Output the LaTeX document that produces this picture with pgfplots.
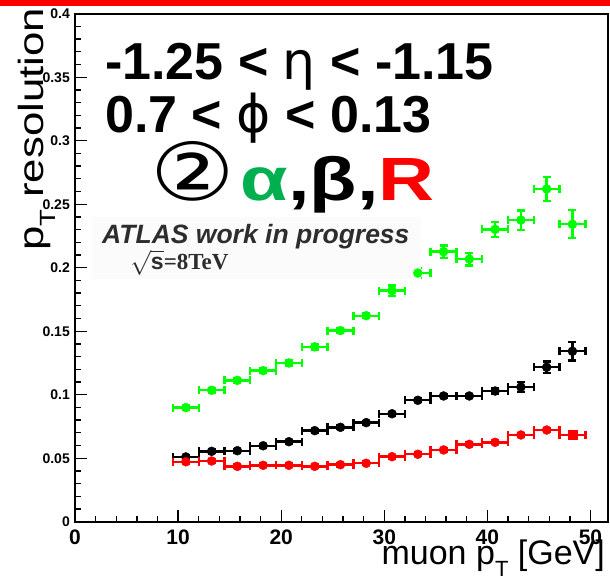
\documentclass[border=0pt]{standalone}
\usepackage{fontspec}
\setmainfont{Liberation Sans}
\newfontfamily\dejavu{DejaVu Sans}
\newfontfamily\lserif{Liberation Serif}
\newfontfamily\wide[FakeStretch=1.27]{Liberation Sans}
\newfontfamily\widedv[FakeStretch=1.18]{DejaVu Sans}
\newfontfamily\tall[FakeStretch=1.25]{Liberation Sans}
\usepackage{pgfplots}
\pgfplotsset{compat=1.18}
\definecolor{rootgreen}{RGB}{0,255,0}
\definecolor{offgreen}{RGB}{0,176,80}
\definecolor{atlasgray}{RGB}{45,45,45}

% x = bin centre, ex = half bin width, ey = stat. error
\pgfplotstableread{
x y ex ey
10.75 0.0898 1.25 0.002
13.25 0.1035 1.25 0.002
15.75 0.1113 1.25 0.002
18.25 0.1189 1.25 0.002
20.75 0.1250 1.25 0.002
23.25 0.1377 1.25 0.002
25.75 0.1505 1.25 0.002
28.25 0.1622 1.25 0.002
30.75 0.1819 1.25 0.004
33.25 0.1958 1.25 0.004
35.75 0.2126 1.25 0.005
38.25 0.2068 1.25 0.005
40.75 0.2302 1.25 0.006
43.25 0.2375 1.25 0.0076
45.75 0.2620 1.25 0.0096
48.25 0.2342 1.25 0.011
}\greendata

\pgfplotstableread{
x y ex ey
10.75 0.0510 1.25 0.0015
13.25 0.0554 1.25 0.0015
15.75 0.0559 1.25 0.0015
18.25 0.0598 1.25 0.0015
20.75 0.0630 1.25 0.0015
23.25 0.0717 1.25 0.0015
25.75 0.0743 1.25 0.0015
28.25 0.0780 1.25 0.0015
30.75 0.0850 1.25 0.0015
33.25 0.0956 1.25 0.0015
35.75 0.0990 1.25 0.0015
38.25 0.0990 1.25 0.0015
40.75 0.1029 1.25 0.002
43.25 0.1060 1.25 0.004
45.75 0.1216 1.25 0.0045
48.25 0.1342 1.25 0.0072
}\blackdata

\pgfplotstableread{
x y ex ey
10.75 0.0472 1.25 0.0015
13.25 0.0478 1.25 0.0015
15.75 0.0436 1.25 0.0015
18.25 0.0444 1.25 0.0015
20.75 0.0444 1.25 0.0015
23.25 0.0436 1.25 0.0015
25.75 0.0449 1.25 0.0015
28.25 0.0460 1.25 0.0015
30.75 0.0512 1.25 0.0015
33.25 0.0531 1.25 0.0015
35.75 0.0565 1.25 0.0015
38.25 0.0609 1.25 0.0015
40.75 0.0625 1.25 0.0015
43.25 0.0683 1.25 0.0015
45.75 0.0722 1.25 0.0015
}\reddata

\pgfplotstableread{
x y ex ey
48.25 0.0683 1.25 0.0015
}\redlast

\begin{document}
\begin{tikzpicture}
\begin{axis}[
  scale only axis,
  width=533pt, height=508pt,
  xmin=0, xmax=51.7, ymin=0, ymax=0.4,
  xtick={0,10,20,30,40,50},
  ytick={0,0.05,0.1,0.15,0.2,0.25,0.3,0.35,0.4},
  minor x tick num=4, minor y tick num=4,
  xtick pos=left, ytick pos=left,
  tick align=inside,
  major tick length=12pt, minor tick length=6pt,
  every tick/.style={black, line width=1.3pt},
  axis line style={line width=1.8pt},
  /pgf/number format/assume math mode=true,
  yticklabel style={font=\bfseries\fontsize{14}{14}\selectfont, inner sep=0pt, xshift=-5pt,
    /pgf/number format/fixed, /pgf/number format/precision=2},
  xticklabel style={font=\bfseries\fontsize{21}{21}\selectfont, inner sep=0pt, yshift=-8pt},
  xlabel={muon p\raisebox{-0.35em}{\fontsize{22}{22}\selectfont T} [GeV]},
  xlabel style={at={(rel axis cs:0.9944,-0.0852)}, anchor=base east, inner sep=0pt,
    font=\fontsize{34}{34}\selectfont},
  ylabel={\tall p\raisebox{-0.35em}{\fontsize{22}{22}\selectfont T} resolution},
  ylabel style={at={(rel axis cs:-0.060,1.0118)}, anchor=base east, inner sep=0pt,
    font=\fontsize{35}{35}\selectfont},
  error bars/error bar style={line width=2.4pt},
  error bars/error mark options={rotate=90, mark size=4pt, line width=2.4pt},
]
\addplot[only marks, mark=*, mark size=4.5pt, color=rootgreen, mark options={line width=0.4pt},
  error bars/.cd, x dir=both, x explicit, y dir=both, y explicit]
  table[x=x, y=y, x error=ex, y error=ey] {\greendata};
\addplot[only marks, mark=*, mark size=4.5pt, color=black, mark options={line width=0.4pt},
  error bars/.cd, x dir=both, x explicit, y dir=both, y explicit]
  table[x=x, y=y, x error=ex, y error=ey] {\blackdata};
\addplot[only marks, mark=*, mark size=4.5pt, color=red, mark options={line width=0.4pt},
  error bars/.cd, x dir=both, x explicit, y dir=both, y explicit]
  table[x=x, y=y, x error=ex, y error=ey] {\reddata};
\addplot[only marks, mark=square*, mark size=4.5pt, color=red, mark options={line width=0.4pt},
  error bars/.cd, x dir=both, x explicit, y dir=both, y explicit]
  table[x=x, y=y, x error=ex, y error=ey] {\redlast};

% pasted ATLAS label (covers part of one point)
\fill[gray!3] (rel axis cs:0.0319,0.4778) rectangle (rel axis cs:0.649,0.5998);
\node[anchor=base west, inner sep=0pt, text=atlasgray, font=\bfseries\itshape\fontsize{26.5}{26.5}\selectfont]
  at (rel axis cs:0.0507,0.5472) {ATLAS work in progress};
\node[anchor=base west, inner sep=0pt, text=atlasgray, font=\lserif\bfseries\fontsize{23}{23}\selectfont]
  at (rel axis cs:0.1033,0.4955) {$\sqrt{\mathbf{s}}$=8TeV};

\node[anchor=base west, inner sep=0pt, font=\bfseries\fontsize{52}{52}\selectfont]
  at (rel axis cs:0.0563,0.8695) {-1.25 < {\dejavu\mdseries η} < -1.15};
\node[anchor=base west, inner sep=0pt, font=\bfseries\fontsize{52}{52}\selectfont]
  at (rel axis cs:0.0563,0.7652) {0.7 < {\dejavu\mdseries ϕ} < 0.13};
\node[anchor=base west, inner sep=0pt]
  at (rel axis cs:0.1407,0.633) {{\widedv\fontsize{80}{80}\selectfont ②}\hspace{6pt}{\wide\bfseries\fontsize{61}{61}\selectfont\textcolor{offgreen}{α},β,\textcolor{red}{R}}};
\end{axis}
\fill[red] (-75pt,515.7pt) rectangle (535pt,521.7pt);
\pgfresetboundingbox
\path[use as bounding box] (-75pt,-55.3pt) rectangle (535pt,521.7pt);
\end{tikzpicture}
\end{document}
